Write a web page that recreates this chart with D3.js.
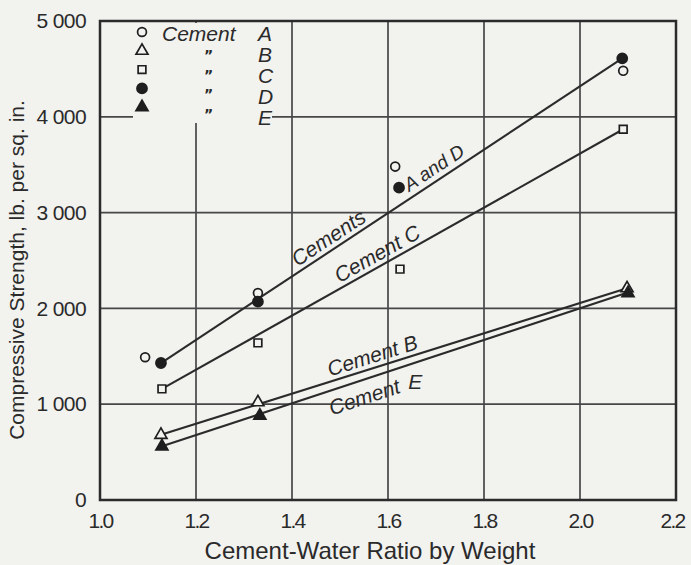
<!DOCTYPE html>
<html>
<head>
<meta charset="utf-8">
<script src="https://cdn.jsdelivr.net/npm/d3@7"></script>
<style>
  html, body { margin: 0; padding: 0; background: #f2f2ef; }
  svg { display: block; }
  text { fill: #2a2a2a; }
</style>
</head>
<body>
<svg id="chart" width="691" height="565"></svg>
<script>
// ratio / strength pairs
const cementA = [[1.094, 1490], [1.329, 2160], [1.615, 3480], [2.09, 4480]];
const cementB = [[1.127, 680], [1.329, 1020], [2.098, 2210]];
const cementC = [[1.129, 1160], [1.329, 1640], [1.625, 2410], [2.09, 3870]];
const cementD = [[1.127, 1430], [1.329, 2070], [1.623, 3260], [2.088, 4610]];
const cementE = [[1.129, 560], [1.333, 880], [2.1, 2160]];

// fitted lines (end points)
const lineAD = [[1.127, 1430], [2.088, 4610]];
const lineC = [[1.129, 1160], [2.09, 3870]];
const lineB = [[1.127, 680], [2.098, 2210]];
const lineE = [[1.129, 560], [2.09, 2150]];

const xTicks = [1.0, 1.2, 1.4, 1.6, 1.8, 2.0, 2.2];
const xTickLabels = ['1.0', '1.2', '1.4', '1.6', '1.8', '2.0', '2.2'];
const yTicks = [0, 1000, 2000, 3000, 4000, 5000];
const yTickLabels = ['0', '1 000', '2 000', '3 000', '4 000', '5 000'];
const legendLetters = ['A', 'B', 'C', 'D', 'E'];

const BG = '#f2f2ef';
const INK = '#2b2b2b';
const FONT = 'Liberation Sans, Arial, sans-serif';

const svg = d3.select('#chart');
const x = d3.scaleLinear().domain([1.0, 2.2]).range([100, 676]);
const y = d3.scaleLinear().domain([0, 5000]).range([500, 21]);

// grid
const grid = svg.append('g').attr('stroke', '#474747').attr('stroke-width', 1.7);
grid.selectAll('line.h')
  .data(yTicks.slice(1, -1))
  .enter()
  .append('line')
  .attr('x1', x(1.0)).attr('x2', x(2.2))
  .attr('y1', d => y(d)).attr('y2', d => y(d));
grid.selectAll('line.v')
  .data(xTicks.slice(1, -1))
  .enter()
  .append('line')
  .attr('x1', d => x(d)).attr('x2', d => x(d))
  .attr('y1', y(0)).attr('y2', y(5000));

// legend sits on a cleared patch of the grid
svg.append('rect')
  .attr('x', 133).attr('y', 23).attr('width', 139).attr('height', 100)
  .attr('fill', BG);

// frame
svg.append('rect')
  .attr('x', x(1.0)).attr('y', y(5000))
  .attr('width', x(2.2) - x(1.0)).attr('height', y(0) - y(5000))
  .attr('fill', 'none').attr('stroke', INK).attr('stroke-width', 2.5);

// axes text (no tick marks in the original)
const xAxis = d3.axisBottom(x).tickValues(xTicks)
  .tickFormat((d, i) => xTickLabels[i]).tickSize(0).tickPadding(13);
const xg = svg.append('g').attr('transform', `translate(0,${y(0)})`).call(xAxis);
const yAxis = d3.axisLeft(y).tickValues(yTicks)
  .tickFormat((d, i) => yTickLabels[i]).tickSize(0).tickPadding(14);
const yg = svg.append('g').attr('transform', `translate(${x(1.0)},0)`).call(yAxis);
[xg, yg].forEach(g => {
  g.select('.domain').remove();
  g.selectAll('text')
    .attr('font-family', FONT)
    .attr('font-size', 21)
    .attr('fill', '#2a2a2a');
});
yg.selectAll('text').attr('letter-spacing', -0.6);
xg.selectAll('text').attr('letter-spacing', -1.8);
// last label sits at the page edge; nudge it in like the original
xg.selectAll('text').filter(d => d === 2.2).attr('dx', -4);

svg.append('text')
  .attr('x', 370).attr('y', 559)
  .attr('text-anchor', 'middle')
  .attr('font-family', FONT)
  .attr('font-size', 24)
  .text('Cement-Water Ratio by Weight');

svg.append('text')
  .attr('transform', 'translate(24,270) rotate(-90)')
  .attr('text-anchor', 'middle')
  .attr('font-family', FONT)
  .attr('font-size', 21)
  .text('Compressive Strength, lb. per sq. in.');

// fitted lines
const lineGen = d3.line().x(d => x(d[0])).y(d => y(d[1]));
svg.append('g')
  .selectAll('path')
  .data([lineAD, lineC, lineB, lineE])
  .enter()
  .append('path')
  .attr('d', lineGen)
  .attr('fill', 'none')
  .attr('stroke', INK)
  .attr('stroke-width', 2.1);

// markers
const symbols = {
  A: { type: d3.symbolCircle, size: 62, filled: false, data: cementA },
  B: { type: d3.symbolTriangle, size: 62, filled: false, data: cementB },
  C: { type: d3.symbolSquare, size: 60, filled: false, data: cementC },
  D: { type: d3.symbolCircle, size: 80, filled: true, data: cementD },
  E: { type: d3.symbolTriangle, size: 62, filled: true, data: cementE }
};

const drawSymbol = (sel, s) => sel
  .attr('d', d3.symbol().type(s.type).size(s.size))
  .attr('fill', s.filled ? '#1e1e1e' : BG)
  .attr('stroke', '#1e1e1e')
  .attr('stroke-width', 1.7);

legendLetters.forEach(key => {
  const s = symbols[key];
  svg.append('g')
    .selectAll('path')
    .data(s.data)
    .enter()
    .append('path')
    .attr('transform', d => `translate(${x(d[0])},${y(d[1])})`)
    .call(drawSymbol, s);
});

// legend
const legend = svg.append('g');
legendLetters.forEach((key, i) => {
  legend.append('path')
    .attr('transform', `translate(142,${32 + i * 18.8})`)
    .call(drawSymbol, symbols[key]);
  legend.append('text')
    .attr('x', 258).attr('y', 41 + i * 21)
    .attr('font-family', FONT)
    .attr('font-style', 'italic')
    .attr('font-size', 21)
    .text(key);
  if (i > 0) {
    legend.append('text')
      .attr('x', 204).attr('y', 60 + (i - 1) * 19.5)
      .attr('font-family', 'DejaVu Sans, sans-serif')
      .attr('font-size', 14)
      .attr('font-weight', 'bold')
      .text('\u201D');
  }
});
legend.append('text')
  .attr('x', 162).attr('y', 41)
  .attr('font-family', FONT)
  .attr('font-style', 'italic')
  .attr('font-size', 21)
  .text('Cement');

// labels laid along the fitted lines
const lineLabel = (line, xv, dy, txt, size, upright) => {
  const [p0, p1] = line;
  const yv = p0[1] + (p1[1] - p0[1]) * (xv - p0[0]) / (p1[0] - p0[0]);
  const ang = Math.atan2(y(p1[1]) - y(p0[1]), x(p1[0]) - x(p0[0])) * 180 / Math.PI;
  svg.append('text')
    .attr('transform', `translate(${x(xv)},${y(yv)}) rotate(${upright ? 0 : ang})`)
    .attr('y', dy)
    .attr('text-anchor', 'middle')
    .attr('font-family', FONT)
    .attr('font-style', 'italic')
    .attr('font-size', size)
    .text(txt);
};

lineLabel(lineAD, 1.49, -5, 'Cements', 21);
lineLabel(lineAD, 1.71, -6, 'A and D', 19);
lineLabel(lineC, 1.59, -5, 'Cement C', 21);
lineLabel(lineB, 1.575, -5, 'Cement B', 21);
lineLabel(lineE, 1.54, 24, 'Cement', 21);
lineLabel(lineE, 1.657, 26, 'E', 21, true);
</script>
</body>
</html>
